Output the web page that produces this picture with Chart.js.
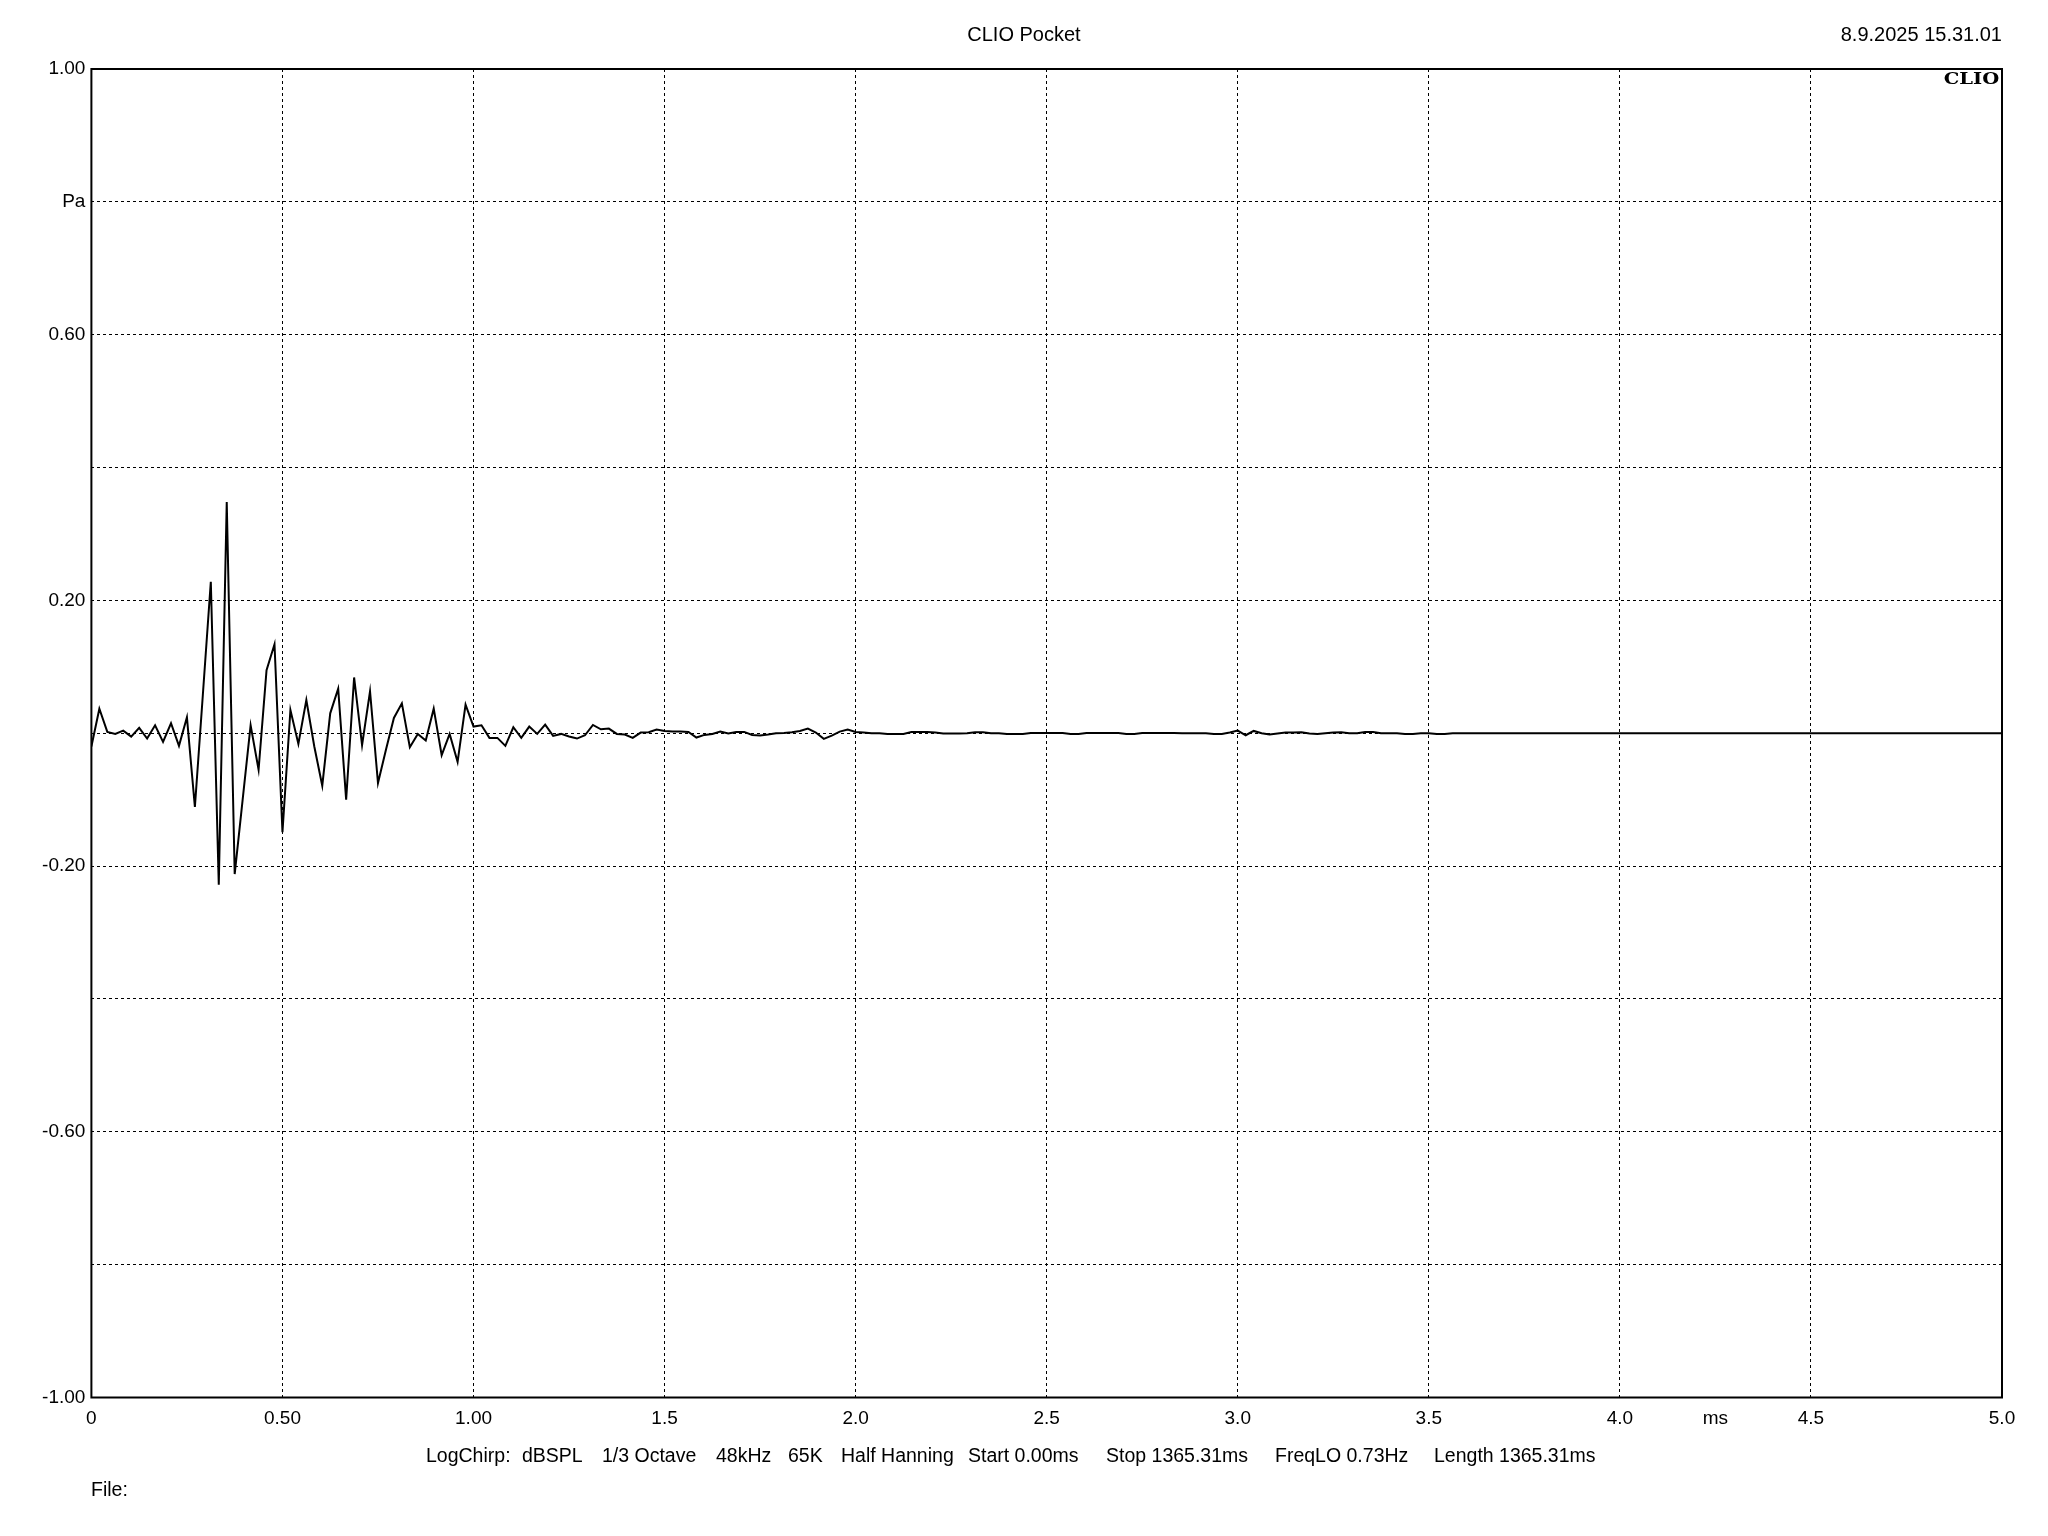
<!DOCTYPE html>
<html>
<head>
<meta charset="utf-8">
<title>CLIO Pocket</title>
<script src="https://cdn.jsdelivr.net/npm/chart.js@4/dist/chart.umd.min.js"></script>
<style>
    html, body { margin: 0; padding: 0; background: #fff; }
    #wrap { position: relative; width: 2048px; height: 1536px; font-family: "Liberation Sans", Arial, sans-serif; color: #000; }
    #wrap canvas { position: absolute; left: 0; top: 0; }
    .txt { position: absolute; font-size: 19.5px; line-height: 22px; white-space: pre; }
    #title { left: 0; width: 2048px; top: 23px; text-align: center; font-size: 20px; }
    #stamp { right: 46px; top: 23px; font-size: 20px; }
    #logo { right: 49px; top: 67px; font-family: "DejaVu Serif", "Liberation Serif", serif; font-weight: bold; font-size: 17px; transform: scaleX(1.15); transform-origin: right center; }
</style>
</head>
<body>
<div id="wrap">
    <canvas id="irChart" width="2048" height="1536"></canvas>
    <div class="txt" id="title">CLIO Pocket</div>
    <div class="txt" id="stamp">8.9.2025 15.31.01</div>
    <div class="txt" id="logo">CLIO</div>
    <div id="footer"></div>
    <div class="txt" style="left:91px; top:1478px;">File:</div>
</div>
<script>
// Impulse response, 48 kHz sampling, 0..5 ms
const sampleRateKHz = 48;

// Pressure (Pa), one value per sample
const pressure = [
    -0.020, 0.037, 0.002, -0.001, 0.004, -0.005, 0.008, -0.008, 0.012, -0.013,
    0.015, -0.019, 0.024, -0.111, 0.058, 0.228, -0.228, 0.348, -0.212, -0.100,
    0.012, -0.055, 0.095, 0.134, -0.149, 0.035, -0.016, 0.050, -0.020, -0.079,
    0.030, 0.067, -0.100, 0.084, -0.018, 0.063, -0.075, -0.025, 0.023, 0.045,
    -0.021, -0.001, -0.011, 0.037, -0.033, -0.001, -0.043, 0.043, 0.010, 0.012,
    -0.007, -0.007, -0.019, 0.009, -0.007, 0.010, -0.001, 0.013, -0.004, -0.001,
    -0.005, -0.008, -0.003, 0.0125, 0.006, 0.007, -0.001, -0.002, -0.007, 0.001,
    0.0015, 0.0055, 0.0035, 0.0025, 0.0025, 0.002, -0.0065, -0.0025, -0.001, 0.0025,
    -0.0005, 0.002, 0.002, -0.0025, -0.0035, -0.002, 0, 0.0005, 0.0015, 0.0035,
    0.007, 0.001, -0.0085, -0.0035, 0.0025, 0.0055, 0.002, 0.001, 0, 0,
    -0.001, -0.001, -0.001, 0.002, 0.002, 0.002, 0.001, -0.0005, -0.0005, -0.0005,
    0, 0.0015, 0.0015, 0, 0, -0.001, -0.001, -0.001, 0.0005, 0.0005,
    0.0005, 0.0005, 0.0005, -0.001, -0.001, 0.0005, 0.0005, 0.0005, 0.0005, 0.0005,
    -0.001, -0.001, 0.0003, 0.0003, 0.0003, 0.0003, 0.0003, 0, 0, 0,
    0, -0.001, -0.001, 0.001, 0.004, -0.003, 0.0035, 0, -0.002, -0.0005,
    0.001, 0.001, 0.0015, -0.0005, -0.001, 0, 0.001, 0.0015, 0, 0,
    0.002, 0.002, 0, 0, 0, -0.001, -0.001, 0, 0, -0.001,
    -0.001, 0, 0, 0, 0, 0, 0, 0, 0, 0,
    0, 0, 0, 0, 0, 0, 0, 0, 0, 0,
    0, 0, 0, 0, 0, 0, 0, 0, 0, 0,
    0, 0, 0, 0, 0, 0, 0, 0, 0, 0,
    0, 0, 0, 0, 0, 0, 0, 0, 0, 0,
    0, 0, 0, 0, 0, 0, 0, 0, 0, 0,
    0, 0, 0, 0, 0, 0, 0, 0, 0, 0,
    0
];

// X axis (ms)
const xTickValues = [0, 0.5, 1, 1.5, 2, 2.5, 3, 3.5, 4, 4.25, 4.5, 5];
const xTickLabels = ['0', '0.50', '1.00', '1.5', '2.0', '2.5', '3.0', '3.5', '4.0', 'ms', '4.5', '5.0'];

// Y axis (Pa)
const yTickValues = [-1, -0.8, -0.6, -0.4, -0.2, 0, 0.2, 0.4, 0.6, 0.8, 1];
const yTickLabels = ['-1.00', '', '-0.60', '', '-0.20', '', '0.20', '', '0.60', 'Pa', '1.00'];

// Footer settings line
const footerItems = ['LogChirp:', 'dBSPL', '1/3 Octave', '48kHz', '65K', 'Half Hanning', 'Start 0.00ms', 'Stop 1365.31ms', 'FreqLO 0.73Hz', 'Length 1365.31ms'];
const footerLeft = [426, 522, 602, 716, 788, 841, 968, 1106, 1275, 1434];

const footer = document.getElementById('footer');
footerItems.forEach((t, i) => {
    const d = document.createElement('div');
    d.className = 'txt';
    d.style.left = footerLeft[i] + 'px';
    d.style.top = '1444px';
    d.textContent = t;
    footer.appendChild(d);
});

const points = pressure.map((v, i) => ({ x: i / sampleRateKHz, y: v }));

const tickFont = { family: '"Liberation Sans", Arial, sans-serif', size: 19 };

// Solid frame round the plot area
const framePlugin = {
    id: 'frame',
    afterDraw(chart) {
        const { ctx, chartArea: a } = chart;
        ctx.save();
        ctx.strokeStyle = '#000';
        ctx.lineWidth = 2;
        ctx.setLineDash([]);
        ctx.strokeRect(a.left, a.top, a.right - a.left, a.bottom - a.top);
        ctx.restore();
    }
};

new Chart(document.getElementById('irChart'), {
    type: 'line',
    data: {
        datasets: [{
            data: points,
            borderColor: '#000',
            borderWidth: 2,
            pointRadius: 0,
            tension: 0,
            fill: false
        }]
    },
    options: {
        responsive: false,
        animation: false,
        devicePixelRatio: 1,
        layout: { padding: { left: 0, right: 46, top: 69, bottom: 0 } },
        plugins: {
            legend: { display: false },
            tooltip: { enabled: false }
        },
        scales: {
            x: {
                type: 'linear',
                min: 0,
                max: 5,
                afterBuildTicks: (scale) => { scale.ticks = xTickValues.map(v => ({ value: v })); },
                afterFit: (scale) => { scale.height = 138.5; },
                ticks: {
                    autoSkip: false,
                    maxRotation: 0,
                    padding: 10,
                    color: '#000',
                    font: tickFont,
                    callback: (v) => xTickLabels[xTickValues.indexOf(v)]
                },
                grid: {
                    drawTicks: false,
                    lineWidth: 1,
                    color: (c) => (c.tick && c.tick.value === 4.25) ? 'rgba(0,0,0,0)' : '#000'
                },
                border: { display: false, dash: [3, 3] }
            },
            y: {
                min: -1,
                max: 1,
                afterBuildTicks: (scale) => { scale.ticks = yTickValues.map(v => ({ value: v })); },
                afterFit: (scale) => { scale.width = 91.4; },
                ticks: {
                    autoSkip: false,
                    padding: 6,
                    color: '#000',
                    font: tickFont,
                    callback: (v) => yTickLabels[yTickValues.findIndex(t => Math.abs(t - v) < 1e-9)]
                },
                grid: { drawTicks: false, lineWidth: 1, color: '#000' },
                border: { display: false, dash: [3, 3] }
            }
        }
    },
    plugins: [framePlugin]
});
</script>
</body>
</html>
